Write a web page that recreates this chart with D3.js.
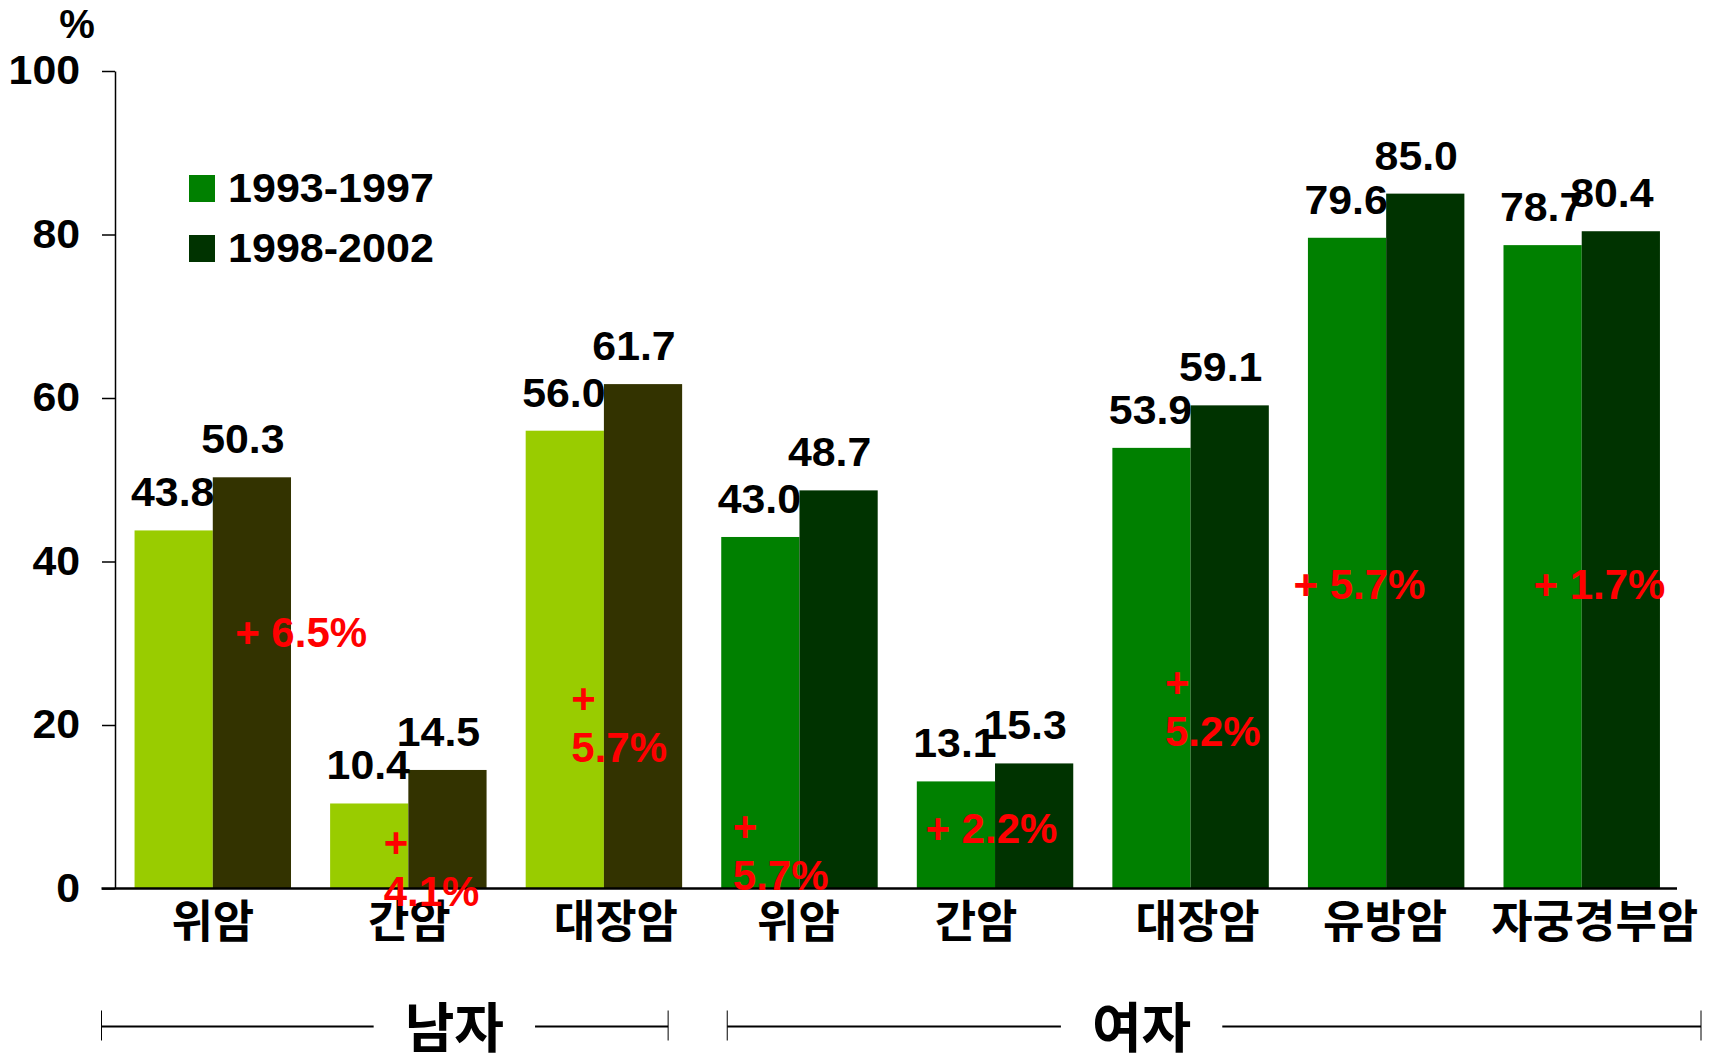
<!DOCTYPE html>
<html>
<head>
<meta charset="utf-8">
<script src="https://cdn.jsdelivr.net/npm/d3@7"></script>
<style>
  body { margin: 0; background: #fff; }
  svg { display: block; }
  .latin { font-family: "Liberation Sans", Arial, sans-serif; font-weight: bold; }
  .hangul { font-family: "Noto Sans CJK KR", "Noto Sans", sans-serif; font-weight: bold; }
</style>
</head>
<body>
<svg id="chart" width="1713" height="1058"></svg>
<script>
// Five-year relative survival by cancer site, two periods
const categories = ["위암", "간암", "대장암", "위암", "간암", "대장암", "유방암", "자궁경부암"];
const sexOfCategory = ["남자", "남자", "남자", "여자", "여자", "여자", "여자", "여자"];
const periods = ["1993-1997", "1998-2002"];
const survival1993 = [43.8, 10.4, 56.0, 43.0, 13.1, 53.9, 79.6, 78.7];
const survival1998 = [50.3, 14.5, 61.7, 48.7, 15.3, 59.1, 85.0, 80.4];
const changeLabels = ["+ 6.5%", "+ 4.1%", "+ 5.7%", "+ 5.7%", "+ 2.2%", "+ 5.2%", "+ 5.7%", "+ 1.7%"];
const yTicks = [0, 20, 40, 60, 80, 100];
const sexGroups = ["남자", "여자"];

// colours per sex group: [earlier period, later period]
const palette = {
  "남자": ["#99cc00", "#333300"],
  "여자": ["#008000", "#003300"]
};
const legendColors = ["#008000", "#003300"];

const svg = d3.select("#chart");

// widen glyphs slightly, keeping each text's anchor in place
function stretch(sel, factor) {
  sel.each(function () {
    const w = this.getComputedTextLength();
    d3.select(this)
      .attr("textLength", w * factor)
      .attr("lengthAdjust", "spacingAndGlyphs");
  });
}

const x = d3.scaleBand()
  .domain(d3.range(categories.length))
  .range([115, 1679.5])
  .paddingInner(0.2)
  .paddingOuter(0.1);

const xSub = d3.scaleBand()
  .domain(periods)
  .range([0, x.bandwidth()]);

const y = d3.scaleLinear().domain([0, 100]).range([888.5, 71]);

// bars
const rows = categories.map((c, i) => ({
  i, name: c, sex: sexOfCategory[i],
  vals: [survival1993[i], survival1998[i]]
}));

const groups = svg.append("g").selectAll("g")
  .data(rows).join("g")
  .attr("transform", d => `translate(${x(d.i)},0)`);

groups.selectAll("rect")
  .data(d => d.vals.map((v, k) => ({ v, k, sex: d.sex })))
  .join("rect")
  .attr("x", d => xSub(periods[d.k]))
  .attr("width", xSub.bandwidth())
  .attr("y", d => y(d.v))
  .attr("height", d => y(0) - y(d.v))
  .attr("fill", d => palette[d.sex][d.k]);

// value labels above bars
const labelShift = [-1, -9];
const valueLabels = groups.selectAll("text.val")
  .data(d => d.vals.map((v, k) => ({ v, k })))
  .join("text")
  .attr("class", "val latin")
  .attr("x", d => xSub(periods[d.k]) + xSub.bandwidth() / 2 + labelShift[d.k])
  .attr("y", d => y(d.v) - 24)
  .attr("text-anchor", "middle")
  .attr("font-size", 40)
  .attr("fill", "#000")
  .text(d => d.v.toFixed(1));
stretch(valueLabels, 1.07);

// y axis
const yAxis = svg.append("g")
  .attr("transform", `translate(${115},0)`)
  .call(d3.axisLeft(y).tickValues(yTicks).tickSize(13).tickSizeOuter(0).tickPadding(22));
yAxis.select(".domain").attr("stroke", "#000").attr("stroke-width", 1.5);
yAxis.selectAll(".tick line").attr("stroke", "#000").attr("stroke-width", 1.5);
const tickText = yAxis.selectAll(".tick text")
  .attr("class", "latin")
  .attr("font-size", 40)
  .attr("fill", "#000");
stretch(tickText, 1.07);

svg.append("text")
  .attr("class", "latin")
  .attr("x", 77).attr("y", 38)
  .attr("text-anchor", "middle")
  .attr("font-size", 40)
  .text("%");

// baseline
svg.append("line")
  .attr("x1", 101.5).attr("x2", 1677)
  .attr("y1", y(0)).attr("y2", y(0))
  .attr("stroke", "#000").attr("stroke-width", 2.5);

// category labels under each pair
const tickNudge = [0, 1, 12, -1, -19, 7, -1, 13];
svg.append("g").selectAll("text")
  .data(rows).join("text")
  .attr("class", "hangul")
  .attr("x", d => x(d.i) + x.bandwidth() / 2 + tickNudge[d.i])
  .attr("y", 938)
  .attr("text-anchor", "middle")
  .attr("font-size", 45)
  .attr("fill", "#000")
  .text(d => d.name);

// sex brackets
function bracket(x1, x2, label, cx) {
  const g = svg.append("g");
  const yl = 1026.5;
  const t = g.append("text")
    .attr("class", "hangul")
    .attr("x", cx).attr("y", 1048)
    .attr("text-anchor", "middle")
    .attr("font-size", 54)
    .text(label);
  const w = t.node().getComputedTextLength();
  const gapL = cx - w / 2 - 31, gapR = cx + w / 2 + 31;
  g.append("line").attr("x1", x1).attr("x2", gapL).attr("y1", yl).attr("y2", yl)
    .attr("stroke", "#000").attr("stroke-width", 2);
  g.append("line").attr("x1", gapR).attr("x2", x2).attr("y1", yl).attr("y2", yl)
    .attr("stroke", "#000").attr("stroke-width", 2);
  [x1, x2].forEach(xx => g.append("line")
    .attr("x1", xx).attr("x2", xx).attr("y1", yl - 16).attr("y2", yl + 14)
    .attr("stroke", "#000").attr("stroke-width", 1));
}
const bw = x.bandwidth();
bracket(101.5, x(2) + bw - 14, sexGroups[0], x(1) + bw / 2 + 46);
bracket(x(3) + 6, 1701, sexGroups[1], x(5) + bw / 2 - 49);

// legend
const legend = svg.append("g");
periods.forEach((p, k) => {
  legend.append("rect")
    .attr("x", 189).attr("y", 175 + k * 60)
    .attr("width", 26).attr("height", 27)
    .attr("fill", legendColors[k]);
  const t = legend.append("text")
    .attr("class", "latin")
    .attr("x", 228).attr("y", 202 + k * 60)
    .attr("font-size", 41)
    .text(p);
  stretch(t, 1.05);
});

// change annotations: left offset within the pair, baseline level on the y scale, wrapped or not
const noteLayout = [
  { dx: 100.6, level: 29.5, wrap: false },
  { dx: 53.6,  level: 3.85, wrap: true },
  { dx: 45.6,  level: 21.5, wrap: true },
  { dx: 11.6,  level: 5.8,  wrap: true },
  { dx: 8.6,   level: 5.6,  wrap: false },
  { dx: 52.6,  level: 23.4, wrap: true },
  { dx: -14.4, level: 35.4, wrap: false },
  { dx: 30,    level: 35.4, wrap: false }
];
const notes = svg.append("g");
changeLabels.forEach((lab, i) => {
  const L = noteLayout[i];
  const t = notes.append("text")
    .attr("class", "latin")
    .attr("font-size", 42)
    .attr("fill", "#ff0000")
    .attr("x", x(i) + L.dx)
    .attr("y", y(L.level));
  if (L.wrap) {
    const parts = lab.split(" ");
    t.append("tspan").attr("x", x(i) + L.dx).text(parts[0]);
    t.append("tspan").attr("x", x(i) + L.dx).attr("dy", 49).text(parts[1]);
  } else {
    t.text(lab);
  }
});
</script>
</body>
</html>
